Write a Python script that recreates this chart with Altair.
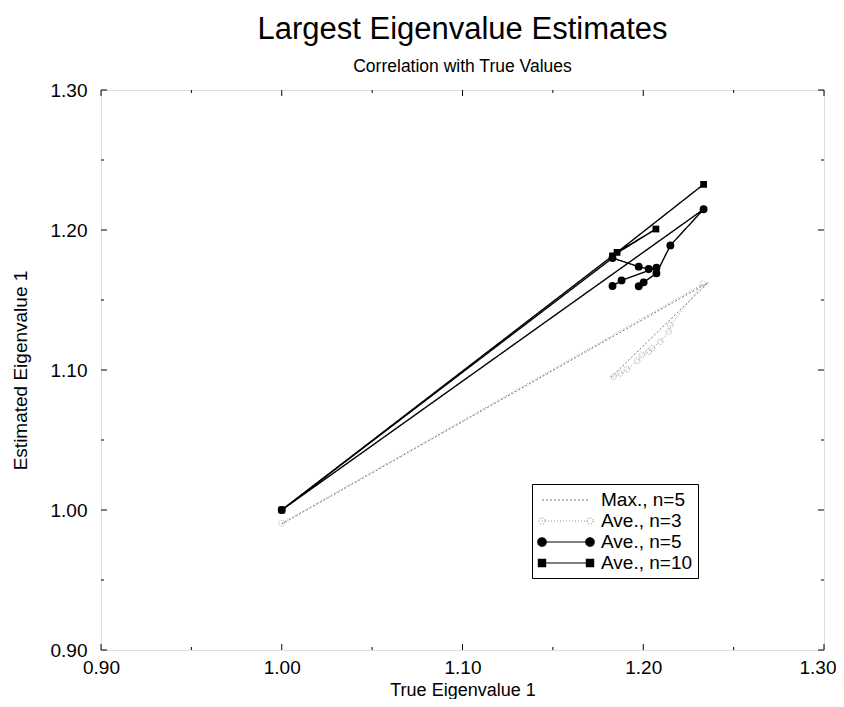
import altair as alt
import pandas as pd

# ---------------- data ----------------
series_names = ["Max., n=5", "Ave., n=3", "Ave., n=5", "Ave., n=10"]

max5_true = [1.000, 1.2360, 1.1818]
max5_est = [0.990, 1.1625, 1.0943]

ave3_true = [1.000, 1.2330, 1.2150, 1.2140, 1.2094, 1.2048, 1.2030, 1.1993, 1.1966, 1.1910, 1.1873, 1.1835]
ave3_est = [0.9905, 1.1615, 1.1321, 1.1274, 1.1202, 1.1155, 1.1131, 1.1107, 1.1066, 1.1005, 1.0976, 1.0952]

ave5_true = [1.1830, 1.1880, 1.2073, 1.2030, 1.1975, 1.1830, 1.0000, 1.2334, 1.2150, 1.2073, 1.2002, 1.1975]
ave5_est = [1.1600, 1.1640, 1.1731, 1.1721, 1.1738, 1.1800, 1.0000, 1.2148, 1.1890, 1.1691, 1.1626, 1.1598]

ave10_true = [1.0000, 1.1855, 1.2070, 1.1830, 1.2334]
ave10_est = [1.0000, 1.1840, 1.2007, 1.1815, 1.2326]

x_major = [0.90, 1.00, 1.10, 1.20, 1.30]
x_minor = [0.95, 1.05, 1.15, 1.25]
y_major = [0.90, 1.00, 1.10, 1.20, 1.30]
y_minor = [0.95, 1.05, 1.15, 1.25]

# ---------------- build tables ----------------
rows = []
for name, xs_, ys_ in [
    (series_names[0], max5_true, max5_est),
    (series_names[1], ave3_true, ave3_est),
    (series_names[2], ave5_true, ave5_est),
    (series_names[3], ave10_true, ave10_est),
]:
    for i, (a, b) in enumerate(zip(xs_, ys_)):
        rows.append({"series": name, "idx": i, "x": a, "y": b})
df = pd.DataFrame(rows)

W, H = 723, 560
FONT = "Liberation Sans"

xscale = alt.Scale(domain=[0.9, 1.3], nice=False, zero=False)
yscale = alt.Scale(domain=[0.9, 1.3], nice=False, zero=False)

xaxis = alt.Axis(values=x_major, format=".2f", title="True Eigenvalue 1", grid=False,
                 domain=False, ticks=False, labelPadding=8, labelFontSize=19,
                 labelFlush=False, titleFontSize=18, titlePadding=4,
                 labelAlign={"condition": {"test": "datum.value >= 1.29", "value": "right"},
                             "value": "center"},
                 labelOffset={"condition": {"test": "datum.value >= 1.29", "value": 12},
                              "value": 0},
                 labelFont=FONT, titleFont=FONT,
                 labelColor="black", titleColor="black", titleFontWeight="normal")
yaxis = alt.Axis(values=y_major, format=".2f", title="Estimated Eigenvalue 1", grid=False,
                 domain=False, ticks=False, labelPadding=14, labelFontSize=19,
                 labelFlush=False, titleFontSize=19, titlePadding=20,
                 labelFont=FONT, titleFont=FONT,
                 labelColor="black", titleColor="black", titleFontWeight="normal")


def X(field="x"):
    return alt.X(f"{field}:Q", scale=xscale, axis=xaxis)


def Y(field="y"):
    return alt.Y(f"{field}:Q", scale=yscale, axis=yaxis)


styles = {
    "Max., n=5": dict(color="#777777", dash=[2, 2], width=1.0),
    "Ave., n=3": dict(color="#9a9a9a", dash=[1, 2], width=1.0),
    "Ave., n=5": dict(color="black", dash=[1, 0], width=1.4),
    "Ave., n=10": dict(color="black", dash=[1, 0], width=1.4),
}

layers = []
for name in series_names:
    st = styles[name]
    sub = df[df.series == name]
    layers.append(
        alt.Chart(sub).mark_line(color=st["color"], strokeDash=st["dash"],
                                 strokeWidth=st["width"])
        .encode(x=X(), y=Y(), order="idx:Q")
    )

# markers
sub3 = df[df.series == "Ave., n=3"]
layers.append(alt.Chart(sub3).mark_point(shape="circle", size=32, filled=False,
                                         color="#9a9a9a", strokeWidth=0.9,
                                         strokeDash=[1, 1], opacity=1)
              .encode(x=X(), y=Y()))
sub5 = df[df.series == "Ave., n=5"]
layers.append(alt.Chart(sub5).mark_circle(size=62, color="black", opacity=1)
              .encode(x=X(), y=Y()))
sub10 = df[df.series == "Ave., n=10"]
layers.append(alt.Chart(sub10).mark_square(size=46, color="black", opacity=1)
              .encode(x=X(), y=Y()))


# inside ticks on all four sides
def ticks(vals, side, length):
    t = alt.Chart(pd.DataFrame({"v": vals})).mark_rule(color="black", strokeWidth=1)
    if side == "bottom":
        return t.encode(x=X("v"), y=alt.value(H), y2=alt.value(H - length))
    if side == "top":
        return t.encode(x=X("v"), y=alt.value(0), y2=alt.value(length))
    if side == "left":
        return t.encode(y=Y("v"), x=alt.value(0), x2=alt.value(length))
    return t.encode(y=Y("v"), x=alt.value(W), x2=alt.value(W - length))


for side in ["bottom", "top"]:
    layers.append(ticks(x_major, side, 6))
    layers.append(ticks(x_minor, side, 3))
for side in ["left", "right"]:
    layers.append(ticks(y_major, side, 6))
    layers.append(ticks(y_minor, side, 3))


# legend (custom line-with-end-markers symbols)
def ends_circle(r, h=2.4):
    return (f"M{-h},0L{h},0"
            f"M{-h + r},0A{r},{r},0,1,1,{-h - r},0A{r},{r},0,1,1,{-h + r},0"
            f"M{h + r},0A{r},{r},0,1,1,{h - r},0A{r},{r},0,1,1,{h + r},0")


def ends_square(s, h=2.4):
    return (f"M{-h},0L{h},0"
            f"M{-h - s},{-s}L{-h + s},{-s}L{-h + s},{s}L{-h - s},{s}Z"
            f"M{h - s},{-s}L{h + s},{-s}L{h + s},{s}L{h - s},{s}Z")


legend_paths = ["M-2.4,0L2.4,0", ends_circle(0.32), ends_circle(0.42), ends_square(0.36)]
legend_fill = ["transparent", "white", "black", "black"]
legend_stroke = ["#777777", "#9a9a9a", "black", "black"]
legend_dash = [[2, 2], [1, 2], [1, 0], [1, 0]]

leg = alt.Legend(title=None, orient="none", legendX=431, legendY=394,
                 strokeColor="black", fillColor="white", padding=5,
                 symbolSize=400, symbolOffset=18, labelOffset=24,
                 symbolStrokeWidth=1.2, labelFontSize=19, labelFont=FONT,
                 labelColor="black", rowPadding=0, symbolOpacity=1,
                 labelLimit=300)

legend_df = pd.DataFrame({"series": series_names, "x": [1.0] * 4, "y": [1.0] * 4})
layers.append(
    alt.Chart(legend_df).mark_point(filled=True, opacity=0)
    .encode(
        x=X(), y=Y(),
        shape=alt.Shape("series:N", scale=alt.Scale(domain=series_names, range=legend_paths), legend=leg),
        fill=alt.Fill("series:N", scale=alt.Scale(domain=series_names, range=legend_fill), legend=leg),
        stroke=alt.Stroke("series:N", scale=alt.Scale(domain=series_names, range=legend_stroke), legend=leg),
        strokeDash=alt.StrokeDash("series:N", scale=alt.Scale(domain=series_names, range=legend_dash), legend=leg),
    )
)

chart = (
    alt.layer(*layers)
    .properties(
        width=W, height=H,
        autosize=alt.AutoSizeParams(type="none"),
        padding={"left": 93, "top": 82, "right": 12, "bottom": 49},
        title=alt.TitleParams(
            "Largest Eigenvalue Estimates",
            subtitle="Correlation with True Values",
            anchor="middle", font=FONT, fontSize=31, fontWeight="normal", color="black",
            subtitleFont=FONT, subtitleFontSize=17.5, subtitleColor="black",
            subtitlePadding=12, offset=5,
        ),
    )
    .configure_view(stroke="black", strokeWidth=1.3)
    .configure(background="white")
)

chart.save("out.html", embed_options={"renderer": "svg", "actions": False})
